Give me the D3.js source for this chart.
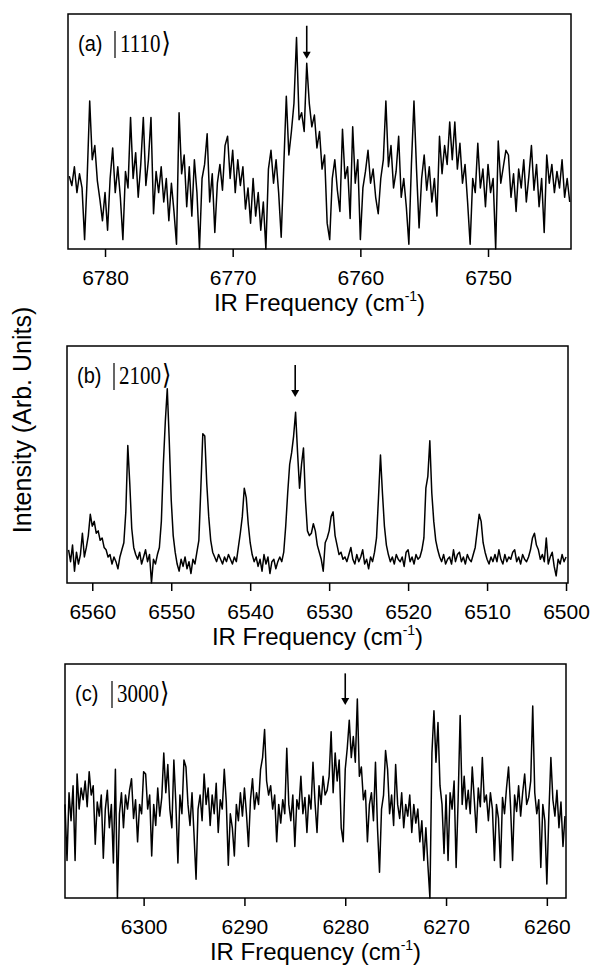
<!DOCTYPE html>
<html>
<head>
<meta charset="utf-8">
<script src="https://cdn.jsdelivr.net/npm/d3@7"></script>
<style>
    body { margin: 0; background: #fff; }
    svg { display: block; background: #fff; }
    .frame { fill: none; stroke: #000; stroke-width: 1.5; }
    .trace { fill: none; stroke: #000; stroke-width: 1.5; stroke-linejoin: round; }
    .x-axis text { font-family: "Liberation Sans", Arial, sans-serif; font-size: 21px; fill: #000; }
    .x-axis line { stroke: #000; stroke-width: 1.5; }
    .axis-label { font-family: "Liberation Sans", Arial, sans-serif; font-size: 24px; fill: #000; }
    .panel-tag { font-family: "Liberation Sans", Arial, sans-serif; font-size: 20px; fill: #000; }
    .panel-ket { font-family: "Liberation Serif", "Times New Roman", serif; font-size: 21px; fill: #000; }
    .ket-bar { stroke: #000; stroke-width: 1.2; }
    .arrow { stroke: #000; stroke-width: 1.6; }
</style>
</head>
<body>
<svg id="fig" width="592" height="965"></svg>
<script>

/*********************/
/*** CHART DATA    ***/
/*********************/

// intensities in % of the frame height (0 = bottom, 100 = top)

// (a) |1110>, first point 6782.8 cm-1, one point every 0.2 cm-1
const freq_start_a = 6782.8, freq_step_a = 0.2;
const ir_a = [
    31, 27, 35, 24, 32, 26, 4, 30, 63, 38,
    44, 29, 21, 12, 24, 8, 30, 43, 24, 35,
    22, 4, 33, 26, 56, 30, 41, 22, 36, 56,
    27, 38, 56, 15, 33, 24, 35, 20, 30, 12,
    28, 16, 2, 58, 32, 40, 18, 35, 14, 38,
    24, 0, 30, 36, 49, 20, 32, 7, 28, 36,
    25, 44, 48, 30, 42, 24, 38, 27, 35, 17,
    26, 11, 30, 14, 24, 8, 20, 0, 34, 42,
    28, 38, 24, 5, 35, 65, 40, 50, 62, 90,
    55, 58, 50, 79, 62, 52, 57, 43, 50, 34,
    40, 11, 4, 30, 38, 25, 16, 51, 30, 35,
    13, 52, 28, 38, 4, 26, 33, 42, 28, 34,
    22, 15, 30, 38, 63, 35, 44, 26, 33, 48,
    22, 30, 18, 2, 36, 63, 34, 9, 30, 40,
    25, 35, 20, 30, 14, 48, 32, 44, 36, 54,
    38, 54, 34, 45, 28, 36, 20, 2, 30, 24,
    45, 26, 34, 18, 36, 24, 30, 0, 46, 28,
    35, 42, 40, 22, 32, 16, 34, 26, 38, 20,
    31, 44, 25, 36, 18, 30, 7, 40, 28, 36,
    24, 33, 26, 38, 22, 30, 20
];
const ticks_a = [6780, 6770, 6760, 6750];

// (b) |2100>, first point 6563.0 cm-1, one point every 0.25 cm-1
const freq_start_b = 6563.0, freq_step_b = 0.25;
const ir_b = [
    14, 9, 16, 5, 13, 8, 12, 21,
    11, 15, 20, 29, 24, 26, 21, 22,
    18, 19, 15, 14, 11, 12, 8, 11,
    9, 6, 11, 14, 17, 30, 58, 42,
    23, 15, 12, 10, 13, 8, 11, 14,
    9, 12, 0, 10, 8, 12, 15, 26,
    50, 68, 82, 60, 35, 20, 13, 8,
    5, 10, 7, 11, 6, 9, 4, 10,
    8, 13, 18, 40, 63, 62, 42, 28,
    18, 13, 11, 9, 12, 10, 8, 11,
    9, 12, 10, 8, 11, 9, 15, 21,
    28, 40, 36, 25, 17, 12, 9, 11,
    7, 10, 5, 12, 8, 11, 4, 9,
    10, 6, 9, 11, 9, 13, 24, 38,
    50, 55, 62, 72, 55, 40, 50, 57,
    35, 22, 20, 21, 25, 22, 16, 13,
    10, 5, 17, 19, 22, 28, 30, 20,
    16, 12, 13, 10, 11, 9, 12, 15,
    10, 8, 12, 9, 11, 14, 8, 10,
    6, 11, 9, 13, 19, 36, 54, 38,
    24, 16, 12, 9, 11, 8, 12, 10,
    9, 11, 7, 13, 14, 9, 11, 8,
    12, 10, 11, 14, 19, 40, 45, 60,
    38, 26, 18, 14, 11, 9, 12, 8,
    10, 11, 8, 14, 9, 12, 13, 9,
    11, 8, 12, 10, 9, 12, 15, 22,
    29, 26, 17, 13, 10, 8, 11, 9,
    12, 9, 14, 10, 8, 12, 9, 11,
    10, 13, 14, 9, 11, 8, 12, 10,
    9, 11, 14, 19, 21, 16, 14, 10,
    12, 9, 19, 8, 11, 13, 7, 3,
    10, 8, 12, 9, 11
];
const ticks_b = [6560, 6550, 6540, 6530, 6520, 6510, 6500];

// (c) |3000>, first point 6307.8 cm-1, one point every 0.2 cm-1
const freq_start_c = 6307.8, freq_step_c = 0.2;
const ir_c = [
    40, 16, 45, 33, 48, 16, 53, 38, 47, 42,
    50, 39, 54, 44, 48, 23, 41, 35, 44, 17,
    38, 46, 30, 40, 15, 55, 0, 36, 45, 30,
    44, 38, 46, 51, 34, 42, 24, 40, 36, 54,
    53, 38, 44, 18, 40, 31, 47, 35, 43, 62,
    45, 57, 38, 30, 59, 40, 15, 44, 36, 59,
    56, 40, 31, 45, 27, 8, 38, 44, 33, 53,
    40, 47, 31, 44, 36, 49, 28, 42, 38, 55,
    41, 14, 36, 30, 18, 40, 33, 45, 35, 47,
    36, 22, 42, 51, 38, 45, 40, 55, 60, 72,
    50, 44, 48, 38, 44, 24, 40, 32, 42, 36,
    64, 40, 33, 44, 22, 42, 38, 52, 36, 43,
    28, 44, 38, 58, 41, 28, 48, 40, 52, 44,
    46, 52, 71, 45, 62, 50, 59, 30, 24, 55,
    64, 76, 60, 69, 58, 85, 52, 56, 42, 46,
    24, 40, 45, 33, 58, 30, 11, 38, 44, 63,
    55, 36, 44, 31, 57, 40, 34, 45, 30, 40,
    35, 44, 28, 40, 32, 38, 24, 33, 16, 30,
    14, 0, 62, 80, 58, 75, 48, 40, 19, 44,
    16, 45, 38, 50, 13, 42, 78, 40, 52, 38,
    46, 36, 56, 42, 28, 47, 39, 60, 41, 44,
    33, 45, 38, 16, 40, 34, 13, 43, 36, 47,
    56, 39, 16, 44, 37, 48, 35, 45, 53, 40,
    43, 50, 82, 45, 36, 42, 13, 40, 33, 6,
    36, 60, 42, 35, 46, 30, 41, 22, 35
];
const ticks_c = [6300, 6290, 6280, 6270, 6260];

// x ranges shown in each panel (cm-1, high to low)
const x_domains = [[6782.9, 6743.5], [6563.2, 6499.75], [6307.8, 6258.1]];

// panel tags, state labels and the marked band
const panel_tags = ["(a)", "(b)", "(c)"];
const panel_states = ["1110", "2100", "3000"];
const arrow_freqs = [6764.2, 6534.3, 6280.0];
const arrow_tops = [95, 92, 96];
const arrow_tips = [81, 78.5, 82.5];

/*********************/
/*** INIT VARIABLE ***/
/*********************/

let svg = d3.select("#fig");

let boxes = [
    {left: 68, right: 571, top: 14,  bottom: 249},
    {left: 67, right: 568, top: 346, bottom: 583},
    {left: 65, right: 566, top: 664, bottom: 898}
];

let panels = [
    {start: freq_start_a, step: freq_step_a, values: ir_a, ticks: ticks_a},
    {start: freq_start_b, step: freq_step_b, values: ir_b, ticks: ticks_b},
    {start: freq_start_c, step: freq_step_c, values: ir_c, ticks: ticks_c}
];

/********************************/
/*** DECLARE HELPER FUNCTIONS ***/
/********************************/

function render_panel(p, i) {
    let box = boxes[i];
    let x = d3.scaleLinear().domain(x_domains[i]).range([box.left, box.right]),
        y = d3.scaleLinear().domain([0, 100]).range([box.bottom, box.top]);

    let pts = p.values.map((v, k) => [p.start - p.step * k, v]);

    svg.append("path")
        .datum(pts)
        .classed("trace", true)
        .attr("d", d3.line().x((d) => x(d[0])).y((d) => y(d[1])));

    svg.append("rect")
        .classed("frame", true)
        .attr("x", box.left)
        .attr("y", box.top)
        .attr("width", box.right - box.left)
        .attr("height", box.bottom - box.top);

    let axis = svg.append("g")
        .classed("x-axis", true)
        .attr("transform", `translate(0, ${box.bottom})`)
        .call(d3.axisBottom(x).tickValues(p.ticks).tickSize(8).tickFormat(d3.format("d")));
    axis.select(".domain").remove();
    axis.selectAll(".tick text").attr("y", 36).attr("dy", null);

    // x axis title with superscript
    let t = svg.append("text")
        .classed("axis-label", true)
        .attr("text-anchor", "middle")
        .attr("x", (box.left + box.right) / 2)
        .attr("y", box.bottom + 62);
    t.append("tspan").text("IR Frequency (cm");
    t.append("tspan").attr("font-size", "14px").attr("dy", -10).text("-1");
    t.append("tspan").attr("dy", 10).text(")");

    // panel tag and ket
    svg.append("text")
        .classed("panel-tag", true)
        .attr("transform", `translate(${box.left + 10}, ${box.top + 37}) scale(1, 1.12)`)
        .text(panel_tags[i]);

    svg.append("line")
        .classed("ket-bar", true)
        .attr("x1", box.left + 47).attr("x2", box.left + 47)
        .attr("y1", box.top + 17).attr("y2", box.top + 44);

    let ket = svg.append("text")
        .classed("panel-ket", true)
        .attr("transform", `translate(${box.left + 52}, ${box.top + 38}) scale(1, 1.15)`);
    ket.append("tspan").text(panel_states[i]);
    ket.append("tspan")
        .attr("dx", 1)
        .attr("font-family", "DejaVu Serif, serif")
        .attr("font-size", "24px")
        .attr("font-weight", 300)
        .text("\u27E9");

    // arrow marking the band
    let ax = x(arrow_freqs[i]),
        ay0 = y(arrow_tops[i]),
        ay1 = y(arrow_tips[i]);
    svg.append("line")
        .classed("arrow", true)
        .attr("x1", ax).attr("x2", ax)
        .attr("y1", ay0).attr("y2", ay1 - 5);
    svg.append("path")
        .attr("d", `M${ax - 4},${ay1 - 7} L${ax + 4},${ay1 - 7} L${ax},${ay1} Z`)
        .attr("fill", "#000");
}

function render_ylabel() {
    svg.append("text")
        .classed("axis-label", true)
        .attr("text-anchor", "middle")
        .style("font-size", "25px")
        .attr("transform", "translate(31, 420) rotate(-90)")
        .text("Intensity (Arb. Units)");
}

/*********************************/
/*** DRAW                      ***/
/*********************************/

panels.forEach(render_panel);
render_ylabel();

</script>
</body>
</html>
